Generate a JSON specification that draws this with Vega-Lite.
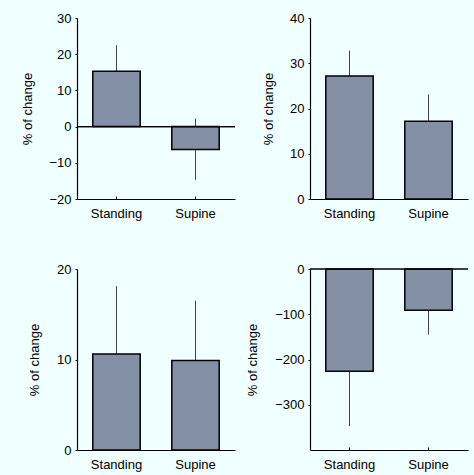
{
  "$schema": "https://vega.github.io/schema/vega-lite/v6.json",
  "background": "#f0ffff",
  "padding": {"left": 21, "top": 12, "right": 5, "bottom": 5},
  "config": {
    "font": "Liberation Sans",
    "view": {"stroke": null},
    "axis": {
      "labelFont": "Liberation Sans",
      "titleFont": "Liberation Sans",
      "labelFontSize": 13,
      "titleFontSize": 13,
      "titleFontWeight": "normal",
      "labelColor": "#000",
      "titleColor": "#000",
      "domainColor": "#000",
      "tickColor": "#000",
      "domainWidth": 1.2,
      "tickWidth": 1,
      "labelOverlap": false,
      "grid": false
    }
  },
  "data": {
    "values": [
      {"panel": "A", "cond": "Standing", "mean": 15.3, "lo": 8.1, "hi": 22.5},
      {"panel": "A", "cond": "Supine", "mean": -6.3, "lo": -14.7, "hi": 2.2},
      {"panel": "B", "cond": "Standing", "mean": 27.2, "lo": 21.6, "hi": 32.8},
      {"panel": "B", "cond": "Supine", "mean": 17.2, "lo": 11.3, "hi": 23.1},
      {"panel": "C", "cond": "Standing", "mean": 10.6, "lo": 3.1, "hi": 18.1},
      {"panel": "C", "cond": "Supine", "mean": 9.9, "lo": 3.3, "hi": 16.5},
      {"panel": "D", "cond": "Standing", "mean": -226, "lo": -347, "hi": -105},
      {"panel": "D", "cond": "Supine", "mean": -91, "lo": -145, "hi": -37}
    ]
  },
  "columns": 2,
  "bounds": "flush",
  "spacing": {"column": 75, "row": 70},
  "concat": [
    {
      "width": 158, "height": 181,
      "transform": [{"filter": "datum.panel == 'A'"}],
      "layer": [
        {"mark": {"type": "rule", "color": "#444", "strokeWidth": 1},
         "encoding": {"x": {"field": "cond", "type": "nominal", "sort": ["Standing", "Supine"],
                            "scale": {"paddingInner": 0.4, "paddingOuter": 0.2},
                            "axis": {"title": null, "labelAngle": 0, "tickSize": -3, "labelPadding": 11}},
                      "y": {"field": "lo", "type": "quantitative", "scale": {"domain": [-20, 30], "nice": false},
                            "axis": {"title": "% of change", "values": [-20, -10, 0, 10, 20, 30], "labelOverlap": false, "tickCount": 6, "tickSize": 2, "labelPadding": 4, "titleX": -50, "titleBaseline": "middle"}},
                      "y2": {"field": "hi"}}},
        {"mark": {"type": "bar", "fill": "#8390a6", "stroke": "#000", "strokeWidth": 1.5},
         "encoding": {"x": {"field": "cond", "type": "nominal", "sort": ["Standing", "Supine"]},
                      "y": {"field": "mean", "type": "quantitative",
                            "axis": {"title": "% of change", "values": [-20, -10, 0, 10, 20, 30], "labelOverlap": false, "tickCount": 6, "tickSize": 2, "labelPadding": 4, "titleX": -50, "titleBaseline": "middle"}}}},
        {"mark": {"type": "rule", "color": "#000", "strokeWidth": 1.2},
         "encoding": {"y": {"datum": 0}}}
      ]
    },
    {
      "width": 158, "height": 181,
      "transform": [{"filter": "datum.panel == 'B'"}],
      "layer": [
        {"mark": {"type": "rule", "color": "#444", "strokeWidth": 1},
         "encoding": {"x": {"field": "cond", "type": "nominal", "sort": ["Standing", "Supine"],
                            "scale": {"paddingInner": 0.4, "paddingOuter": 0.2},
                            "axis": {"title": null, "labelAngle": 0, "tickSize": -3, "labelPadding": 11}},
                      "y": {"field": "lo", "type": "quantitative", "scale": {"domain": [0, 40], "nice": false},
                            "axis": {"title": "% of change", "values": [0, 10, 20, 30, 40], "tickSize": 2, "labelPadding": 4, "titleX": -42, "titleBaseline": "middle"}},
                      "y2": {"field": "hi"}}},
        {"mark": {"type": "bar", "fill": "#8390a6", "stroke": "#000", "strokeWidth": 1.5},
         "encoding": {"x": {"field": "cond", "type": "nominal", "sort": ["Standing", "Supine"]},
                      "y": {"field": "mean", "type": "quantitative"}}}
      ]
    },
    {
      "width": 158, "height": 181,
      "transform": [{"filter": "datum.panel == 'C'"}],
      "layer": [
        {"mark": {"type": "rule", "color": "#444", "strokeWidth": 1},
         "encoding": {"x": {"field": "cond", "type": "nominal", "sort": ["Standing", "Supine"],
                            "scale": {"paddingInner": 0.4, "paddingOuter": 0.2},
                            "axis": {"title": null, "labelAngle": 0, "tickSize": -3, "labelPadding": 11}},
                      "y": {"field": "lo", "type": "quantitative", "scale": {"domain": [0, 20], "nice": false},
                            "axis": {"title": "% of change", "values": [0, 10, 20], "tickSize": 2, "labelPadding": 4, "titleX": -43, "titleBaseline": "middle"}},
                      "y2": {"field": "hi"}}},
        {"mark": {"type": "bar", "fill": "#8390a6", "stroke": "#000", "strokeWidth": 1.5},
         "encoding": {"x": {"field": "cond", "type": "nominal", "sort": ["Standing", "Supine"]},
                      "y": {"field": "mean", "type": "quantitative"}}}
      ]
    },
    {
      "width": 158, "height": 181,
      "transform": [{"filter": "datum.panel == 'D'"}],
      "layer": [
        {"mark": {"type": "rule", "color": "#444", "strokeWidth": 1},
         "encoding": {"x": {"field": "cond", "type": "nominal", "sort": ["Standing", "Supine"],
                            "scale": {"paddingInner": 0.4, "paddingOuter": 0.2},
                            "axis": {"title": null, "labelAngle": 0, "tickSize": -3, "labelPadding": 11}},
                      "y": {"field": "lo", "type": "quantitative", "scale": {"domain": [-400, 0], "nice": false},
                            "axis": {"title": "% of change", "values": [-300, -200, -100, 0], "tickSize": 2, "labelPadding": 4, "titleX": -58, "titleBaseline": "middle"}},
                      "y2": {"field": "hi"}}},
        {"mark": {"type": "bar", "fill": "#8390a6", "stroke": "#000", "strokeWidth": 1.5},
         "encoding": {"x": {"field": "cond", "type": "nominal", "sort": ["Standing", "Supine"]},
                      "y": {"field": "mean", "type": "quantitative"}}},
        {"mark": {"type": "rule", "color": "#000", "strokeWidth": 1.2},
         "encoding": {"y": {"datum": 0}}}
      ]
    }
  ]
}
